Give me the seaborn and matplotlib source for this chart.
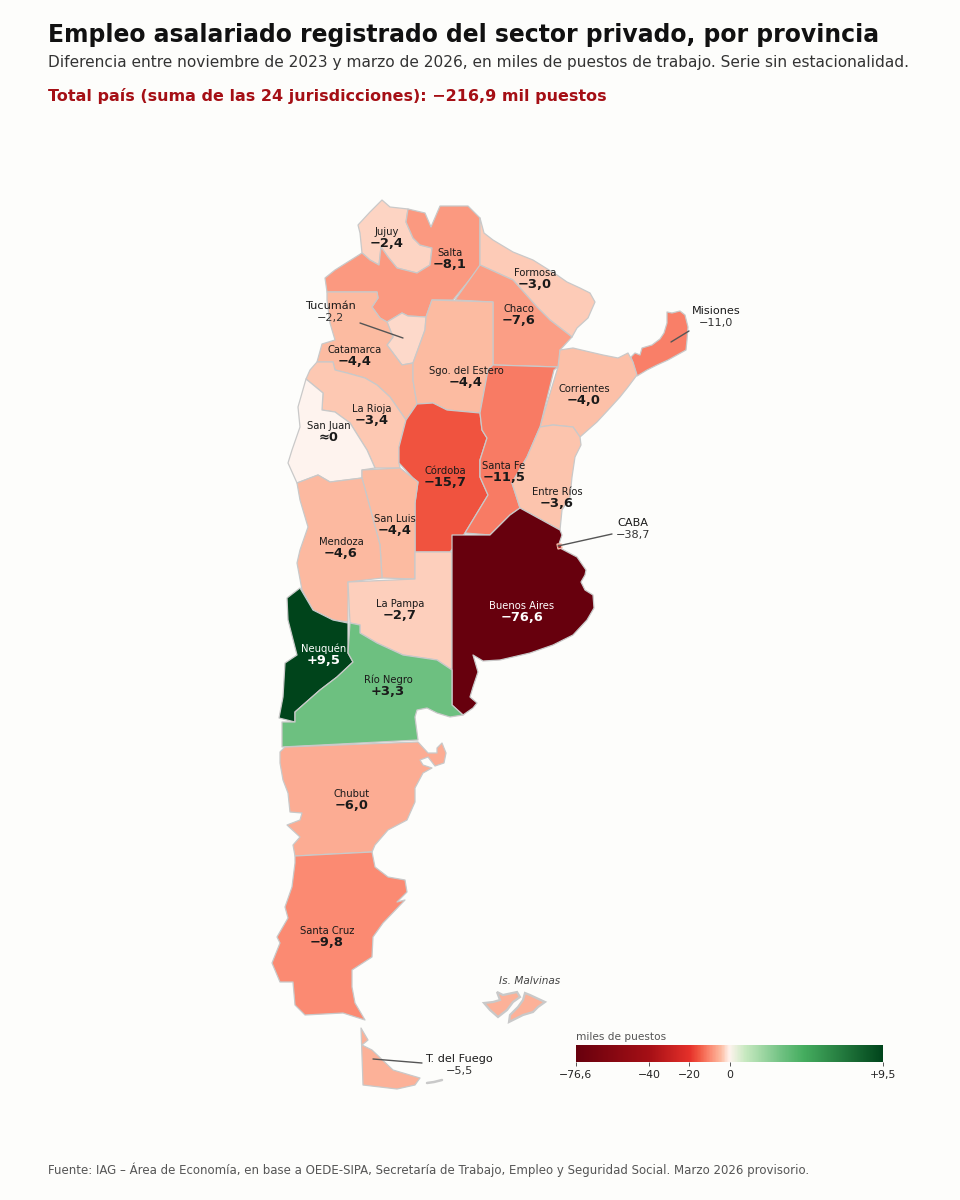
import numpy as np
import matplotlib.pyplot as plt
import seaborn as sns
from matplotlib.colors import LinearSegmentedColormap, TwoSlopeNorm

# ------------------------------
# DATA
# ------------------------------
provinces = ['Jujuy', 'Salta', 'Formosa', 'Chaco', 'Tucumán', 'Misiones', 'Catamarca', 'Sgo. del Estero',
             'Corrientes', 'La Rioja', 'San Juan', 'Córdoba', 'Santa Fe', 'Entre Ríos', 'CABA', 'San Luis',
             'Mendoza', 'La Pampa', 'Buenos Aires', 'Neuquén', 'Río Negro', 'Chubut', 'Santa Cruz', 'T. del Fuego']
values = [-2.4, -8.1, -3.0, -7.6, -2.2, -11.0, -4.4, -4.4,
          -4.0, -3.4, 0.0, -15.7, -11.5, -3.6, -38.7, -4.4,
          -4.6, -2.7, -76.6, 9.5, 3.3, -6.0, -9.8, -5.5]
value_labels = ['−2,4', '−8,1', '−3,0', '−7,6', '−2,2', '−11,0', '−4,4', '−4,4',
                '−4,0', '−3,4', '≈0', '−15,7', '−11,5', '−3,6', '−38,7', '−4,4',
                '−4,6', '−2,7', '−76,6', '+9,5', '+3,3', '−6,0', '−9,8', '−5,5']

cbar_ticks = [-76.6, -40, -20, 0, 9.5]
cbar_tick_labels = ['−76,6', '−40', '−20', '0', '+9,5']

jujuy = [(382, 200), (390, 207), (408, 209), (406, 222), (413, 238), (420, 245), (432, 248), (430, 265), (417, 273),
         (397, 268), (388, 257), (381, 247), (379, 265), (370, 260), (362, 253), (360, 233), (358, 225), (370, 212)]
salta = [(408, 209), (425, 213), (431, 227), (440, 206), (468, 206), (480, 218), (480, 267), (453, 300), (432, 300),
         (426, 317), (408, 316), (402, 313), (387, 322), (380, 318), (372, 307), (378, 298), (377, 292), (327, 292),
         (325, 278), (335, 270), (362, 253), (370, 260), (379, 265), (381, 247), (388, 257), (397, 268), (417, 273),
         (430, 265), (432, 248), (420, 245), (413, 238), (406, 222)]
formosa = [(480, 218), (484, 233), (493, 240), (513, 252), (533, 260), (557, 275), (567, 282), (580, 288), (590, 293),
           (595, 302), (588, 318), (577, 328), (572, 337), (550, 320), (537, 307), (513, 280), (480, 265)]
chaco = [(480, 265), (513, 280), (537, 307), (550, 320), (572, 337), (560, 350), (560, 367), (493, 365), (493, 302), (455, 300)]
tucuman = [(402, 313), (408, 316), (426, 317), (425, 330), (413, 363), (402, 365), (393, 353), (387, 345), (393, 337),
           (387, 322)]
misiones = [(631, 357), (635, 353), (640, 355), (642, 348), (652, 345), (660, 339), (664, 333), (667, 323), (667, 312),
            (672, 313), (680, 311), (685, 315), (688, 327), (687, 340), (686, 350), (677, 355), (668, 360), (657, 365),
            (647, 370), (637, 376)]
catamarca = [(327, 292), (377, 292), (378, 298), (372, 307), (380, 318), (387, 322), (393, 337), (387, 345), (393, 353),
             (402, 365), (413, 363), (413, 380), (417, 404), (406, 420), (390, 397), (377, 385), (365, 378), (347, 373),
             (335, 370), (333, 362), (317, 362), (322, 344), (335, 340), (330, 323), (327, 300)]
sgo_estero = [(432, 300), (493, 302), (493, 365), (488, 370), (480, 413), (447, 410), (433, 403), (417, 404), (413, 380),
              (413, 363), (425, 330), (426, 317)]
corrientes = [(558, 367), (560, 350), (573, 348), (590, 352), (603, 355), (618, 358), (628, 353), (633, 362), (637, 375),
              (628, 387), (620, 397), (610, 408), (597, 422), (580, 437), (573, 427), (553, 425), (540, 427), (548, 400)]
la_rioja = [(317, 362), (333, 362), (335, 370), (347, 373), (365, 378), (377, 385), (390, 397), (406, 420), (399, 447),
            (399, 463), (400, 468), (375, 468), (367, 450), (350, 423), (335, 412), (322, 410), (323, 393), (306, 379),
            (310, 370)]
san_juan = [(306, 379), (323, 393), (322, 410), (335, 412), (350, 423), (367, 450), (375, 468), (362, 470), (362, 478),
            (330, 482), (318, 475), (297, 483), (288, 463), (292, 450), (300, 427), (298, 407)]
cordoba = [(417, 404), (433, 403), (447, 410), (480, 413), (482, 430), (487, 438), (480, 460), (480, 477), (488, 495),
           (465, 533), (450, 552), (415, 552), (415, 503), (418, 482), (413, 478), (399, 463), (399, 447), (406, 420)]
santa_fe = [(493, 365), (558, 367), (554, 370), (540, 427), (527, 457), (512, 483), (520, 508), (510, 515), (490, 535),
            (465, 533), (488, 495), (480, 477), (480, 460), (487, 438), (482, 430), (480, 413), (488, 370)]
entre_rios = [(540, 427), (553, 425), (573, 427), (580, 437), (581, 445), (575, 457), (572, 477), (570, 497), (562, 510),
              (560, 530), (520, 508), (512, 483), (527, 457)]
caba = [(557, 544), (561, 544), (562, 548), (558, 549)]
san_luis = [(362, 470), (400, 468), (418, 482), (415, 503), (415, 579), (382, 578), (380, 545), (372, 515), (362, 478)]
mendoza = [(297, 483), (318, 475), (330, 482), (362, 478), (372, 515), (380, 545), (382, 578), (348, 582), (348, 622),
           (333, 620), (313, 610), (302, 590), (297, 563), (300, 550), (308, 527), (300, 500)]
la_pampa = [(415, 552), (452, 552), (452, 670), (437, 660), (403, 655), (377, 643), (360, 633), (360, 625), (350, 623),
            (348, 582), (415, 579)]
buenos_aires = [(452, 535), (490, 535), (510, 515), (520, 508), (560, 530), (562, 535), (558, 547), (577, 557), (586, 570),
                (585, 575), (581, 582), (585, 590), (593, 595), (594, 608), (587, 620), (573, 635), (553, 645), (530, 653),
                (500, 660), (483, 661), (473, 655), (478, 672), (473, 687), (470, 697), (477, 703), (473, 708), (463, 715),
                (452, 705)]
neuquen = [(300, 588), (313, 610), (333, 620), (348, 623), (348, 653), (353, 662), (337, 677), (320, 690), (295, 712),
           (295, 722), (279, 718), (283, 697), (285, 663), (297, 655), (288, 620), (287, 598)]
rio_negro = [(350, 623), (360, 625), (360, 633), (377, 643), (403, 655), (437, 660), (452, 670), (452, 705), (463, 715),
             (450, 717), (437, 713), (427, 708), (417, 710), (415, 717), (418, 740), (282, 747), (282, 722), (295, 722),
             (295, 712), (320, 690), (337, 677), (353, 662), (348, 653)]
chubut = [(280, 752), (285, 747), (418, 742), (428, 753), (437, 753), (437, 748), (442, 743), (446, 753), (444, 763),
          (435, 766), (428, 757), (420, 760), (423, 765), (432, 768), (423, 773), (415, 788), (415, 802), (407, 820),
          (388, 830), (375, 845), (372, 852), (295, 856), (293, 845), (300, 837), (287, 825), (300, 820), (302, 813),
          (290, 812), (288, 793), (283, 780), (280, 763)]
santa_cruz = [(295, 856), (372, 852), (375, 867), (388, 877), (405, 880), (407, 892), (397, 902), (405, 900), (383, 923),
              (373, 937), (372, 957), (352, 970), (352, 987), (355, 1003), (365, 1020), (343, 1013), (305, 1015),
              (295, 1005), (293, 982), (280, 982), (272, 963), (280, 943), (277, 937), (288, 918), (285, 907), (292, 887),
              (295, 863)]
tierra_fuego = [(361, 1028), (368, 1040), (362, 1045), (372, 1050), (393, 1070), (420, 1078), (415, 1085), (397, 1089),
                (363, 1085)]
malvinas_oeste = [(497, 992), (503, 995), (517, 992), (520, 997), (513, 1002), (507, 1010), (498, 1017), (490, 1010),
                  (484, 1003), (493, 1002), (500, 1000)]
malvinas_este = [(525, 993), (530, 995), (545, 1002), (538, 1007), (533, 1012), (523, 1015), (513, 1020), (509, 1022),
                 (510, 1015), (518, 1007), (523, 1000)]
isla_estados = [(427, 1083), (434, 1082), (442, 1080)]

outlines = [jujuy, salta, formosa, chaco, tucuman, misiones, catamarca, sgo_estero,
            corrientes, la_rioja, san_juan, cordoba, santa_fe, entre_rios, caba, san_luis,
            mendoza, la_pampa, buenos_aires, neuquen, rio_negro, chubut, santa_cruz, tierra_fuego]

# where the labels go
label_x = [387, 450, 535, 519, 330, 716, 355, 466, 584, 372, 329, 445, 504, 557, 633, 395, 341, 400, 522, 324, 388, 352, 327, 459]
label_y = [232, 253, 273, 309, 306, 311, 350, 371, 389, 409, 426, 471, 466, 492, 523, 519, 542, 604, 606, 649, 680, 794, 931, 1059]
callouts = {'Tucumán': ((360, 323), (403, 338)), 'Misiones': ((689, 331), (671, 342)),
            'CABA': ((612, 534), (558, 546)), 'T. del Fuego': ((422, 1063), (373, 1059))}

# ------------------------------
# COLOUR SCALE
# ------------------------------
norm = TwoSlopeNorm(vmin=-76.6, vcenter=0, vmax=9.5)
stops = [(-76.6, '#67000d'), (-40, '#a50f15'), (-20, '#e5302a'), (-15.7, '#f0533f'), (-9.8, '#fb8a72'), (-4.4, '#fcbba1'),
         (-2.7, '#fdd0bd'), (-2.2, '#fdd9ca'), (0, '#fff3ee'), (1, '#c7e9c0'), (3.3, '#6dc080'), (4.6, '#45ad5f'),
         (9.5, '#00441b')]
cmap = LinearSegmentedColormap.from_list('empleo', [(float(norm(v)), c) for v, c in stops], N=1024)

sns.set_theme(style='white')
plt.rcParams['font.family'] = ['DejaVu Sans']
BG = '#fdfdfb'

fig = plt.figure(figsize=(9.6, 12), dpi=100, facecolor=BG)
ax = fig.add_axes([0, 0, 1, 1], facecolor=BG)
ax.set_xlim(0, 960)
ax.set_ylim(1200, 0)
ax.axis('off')

# ------------------------------
# MAP
# ------------------------------
for name, v, shape in zip(provinces, values, outlines):
    if name == 'CABA':
        continue
    xs, ys = zip(*shape)
    ax.fill(xs, ys, facecolor=cmap(norm(v)), edgecolor='#c9c9c9', lw=0.9, joinstyle='round')

xs, ys = zip(*caba)
ax.fill(xs, ys, facecolor=cmap(norm(values[provinces.index('CABA')])), edgecolor='#f4b7a5', lw=1.0)

for shape in [malvinas_oeste, malvinas_este]:
    xs, ys = zip(*shape)
    ax.fill(xs, ys, facecolor=cmap(norm(-5.5)), edgecolor='#c9c9c9', lw=1.6)

xs, ys = zip(*isla_estados)
ax.plot(xs, ys, color='#c9c9c9', lw=1.8)

# callout lines
for name, (p0, p1) in callouts.items():
    ax.plot([p0[0], p1[0]], [p0[1], p1[1]], color='#555555', lw=1.0)

# labels
for name, lab, x, y in zip(provinces, value_labels, label_x, label_y):
    if name in callouts:
        ax.text(x, y, name, ha='center', va='center', fontsize=8.1, color='#1a1a1a')
        ax.text(x, y + 12, lab, ha='center', va='center', fontsize=8.1, color='#333333')
        continue
    c = 'white' if name in ('Buenos Aires', 'Neuquén') else '#1a1a1a'
    ax.text(x, y, name, ha='center', va='center', fontsize=7.2, color=c)
    ax.text(x, y + 11.5, lab, ha='center', va='center', fontsize=9.4, fontweight='bold', color=c)

ax.text(530, 981, 'Is. Malvinas', ha='center', va='center', fontsize=7.6, style='italic', color='#444444')

# ------------------------------
# TITLES
# ------------------------------
ax.text(48, 35, 'Empleo asalariado registrado del sector privado, por provincia', fontsize=16.95, fontweight='bold',
        color='#111111', va='center')
ax.text(48, 63, 'Diferencia entre noviembre de 2023 y marzo de 2026, en miles de puestos de trabajo. Serie sin estacionalidad.',
        fontsize=11.05, color='#333333', va='center')
ax.text(48, 96, 'Total país (suma de las 24 jurisdicciones): −216,9 mil puestos', fontsize=11.5, fontweight='bold',
        color='#a50f15', va='center')
ax.text(48, 1170, 'Fuente: IAG – Área de Economía, en base a OEDE-SIPA, Secretaría de Trabajo, Empleo y Seguridad Social. Marzo 2026 provisorio.',
        fontsize=8.45, color='#555555', va='center')

# ------------------------------
# COLOUR BAR
# ------------------------------
cax = fig.add_axes([576 / 960, 1 - 1062 / 1200, 307 / 960, 17 / 1200])
ramp = norm.inverse(np.linspace(0, 1, 512))[None, :]
sns.heatmap(ramp, ax=cax, cmap=cmap, norm=norm, cbar=False, xticklabels=False, yticklabels=False)
cax.set_xticks([float(norm(t)) * 512 for t in cbar_ticks])
cax.set_xticklabels(cbar_tick_labels, fontsize=7.8, color='#222222')
cax.set_yticks([])
cax.tick_params(axis='x', length=3, width=0.7, color='#555555', pad=3, bottom=True)
ax.text(576, 1037, 'miles de puestos', fontsize=7.6, color='#555555', va='center')

fig.savefig('out.png', dpi=100, facecolor=BG)
